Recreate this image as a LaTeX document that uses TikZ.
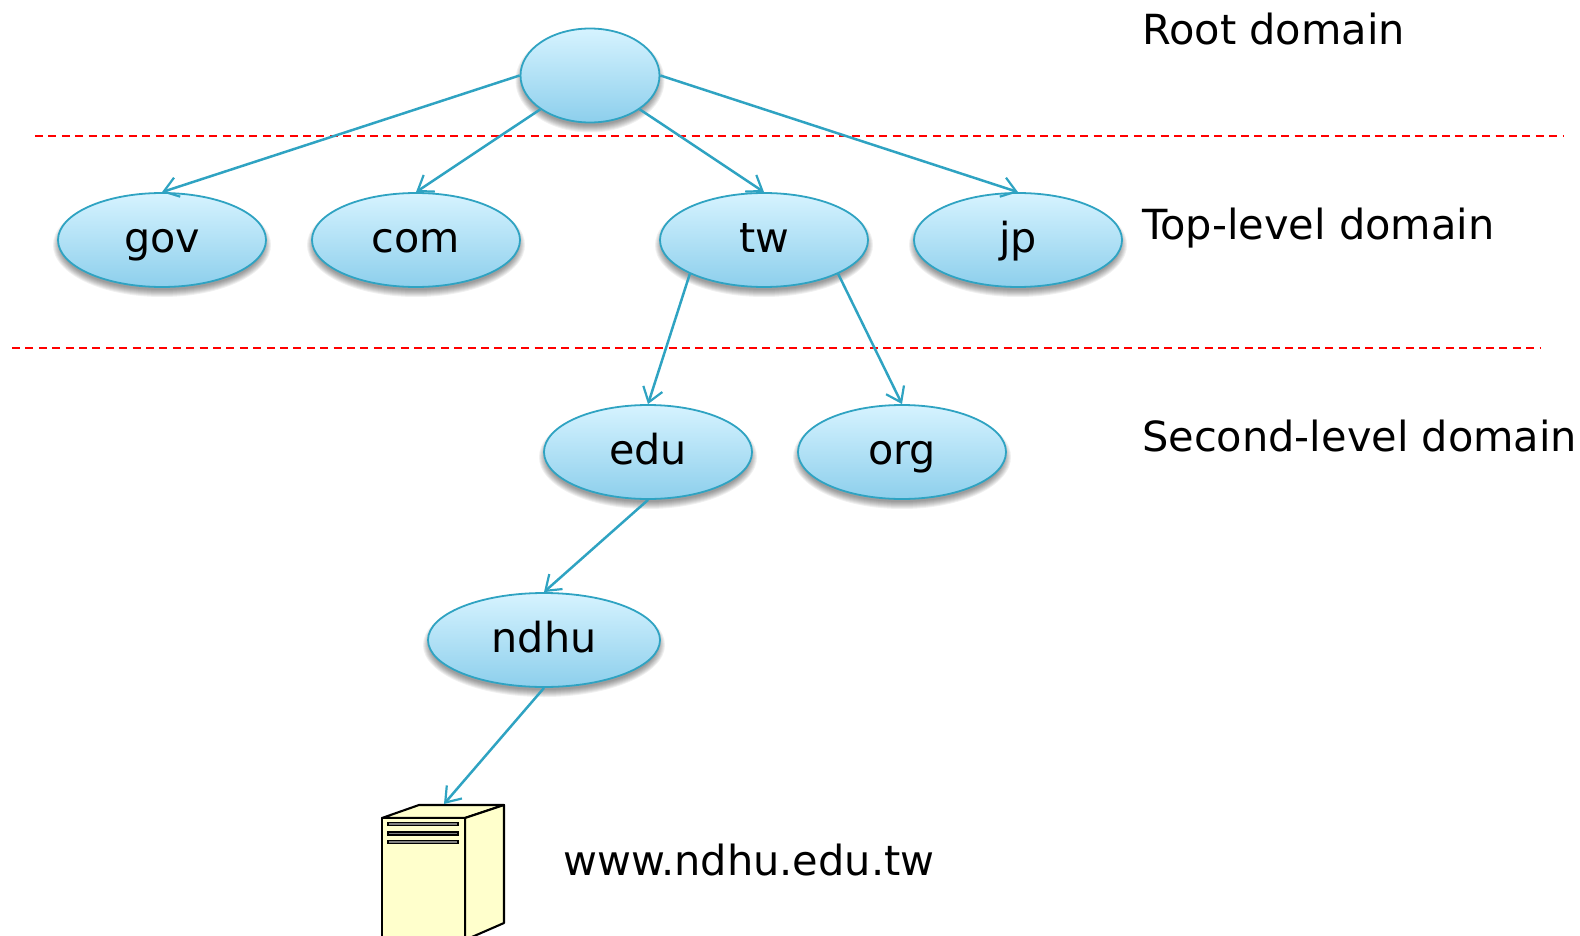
\documentclass[tikz,border=0pt]{standalone}
\usepackage{fontspec}
\setmainfont{DejaVu Sans}
\usetikzlibrary{shapes.geometric,arrows.meta}
\definecolor{edgeblue}{HTML}{2FA3C2}
\definecolor{topblue}{HTML}{D6F3FF}
\definecolor{botblue}{HTML}{8DCFEC}
\definecolor{srv}{HTML}{FFFFCC}
\tikzset{
  x=1pt,y=-1pt,
  softlayer/.style={fill=black,fill opacity=.06,draw=none},
  dom/.style={ellipse,draw=edgeblue,line width=1.8pt,top color=topblue,bottom color=botblue,
    minimum width=208pt,minimum height=94pt,inner sep=0pt,font=\fontsize{41.3}{41.3}\selectfont,
    text height=28pt,text depth=4pt},
  link/.style={draw=edgeblue,line width=2.5pt,-{Straight Barb[length=14pt,width=20pt,line width=2.2pt]}},
  sep/.style={draw=red,line width=1.3pt,dash pattern=on 8pt off 5.4pt},
  lab/.style={anchor=base west,inner sep=0pt,font=\fontsize{41.5}{41.5}\selectfont},
  srvline/.style={draw=black,line width=2.1pt,fill=srv,line join=round},
  bar/.style={draw=black,line width=1.7pt,fill=gray}
}
% soft shadow under an ellipse: centre x, centre y, half width, half height
\newcommand{\softshadow}[4]{%
  \foreach \dd in {-2,-1,0,1,2,3,4,5}{
    \path[softlayer] (#1,#2+5) ellipse [x radius=#3+\dd, y radius=#4+\dd];
  }}
\begin{document}
\begin{tikzpicture}
\useasboundingbox (0,0) rectangle (1580,936);
\clip (0,0) rectangle (1580,936);
\coordinate (s1a) at (35,136); \coordinate (s1b) at (1563,136);
\coordinate (s2a) at (12,348); \coordinate (s2b) at (1540,348);
\draw[sep] (s1a) -- (s1b);
\draw[sep] (s2a) -- (s2b);
\softshadow{590}{75.5}{69.5}{47}
\softshadow{162}{240}{104}{47}
\softshadow{416}{240}{104}{47}
\softshadow{764}{240}{104}{47}
\softshadow{1018}{240}{104}{47}
\softshadow{648}{452}{104}{47}
\softshadow{902}{452}{104}{47}
\softshadow{544}{640}{116}{47}
\node[dom,minimum width=139pt] (root) at (590,75.5) {};
\node[dom] (gov) at (162,240) {gov};
\node[dom] (com) at (416,240) {com};
\node[dom] (tw) at (764,240) {tw};
\node[dom] (jp) at (1018,240) {jp};
\node[dom] (edu) at (648,452) {edu};
\node[dom] (org) at (902,452) {org};
\node[dom,minimum width=232pt] (ndhu) at (544,640) {ndhu};
% server
\coordinate (ftl) at (382,818); \coordinate (ftr) at (465,818);
\coordinate (fbl) at (382,940); \coordinate (fbr) at (465,940);
\coordinate (btl) at (419,805); \coordinate (btr) at (504,805);
\coordinate (rbr) at (504,923);
\path[srvline] (ftl) -- (btl) -- (btr) -- (ftr) -- cycle;
\path[srvline] (ftr) -- (btr) -- (rbr) -- (fbr) -- cycle;
\path[srvline] (ftl) -- (ftr) -- (fbr) -- (fbl) -- cycle;
\foreach \yy in {824,833.5,842}{\path[bar] (388,\yy-1.5) rectangle (458,\yy+1.5);}
\coordinate (srvtop) at (444,804);
% connectors
\draw[link] (root.west) -- (gov.north);
\draw[link] (root.south west) -- (com.north);
\draw[link] (root.south east) -- (tw.north);
\draw[link] (root.east) -- (jp.north);
\draw[link] (tw.south west) -- (edu.north);
\draw[link] (tw.south east) -- (org.north);
\draw[link] (edu.south) -- (ndhu.north);
\draw[link] (ndhu.south) -- (srvtop);
% labels
\node[lab] (l1) at (1142,45) {Root domain};
\node[lab] (l2) at (1142,240) {Top-level domain};
\node[lab] (l3) at (1142,451) {Second-level domain};
\node[lab] (l4) at (563,875) {www.ndhu.edu.tw};
\end{tikzpicture}
\end{document}
